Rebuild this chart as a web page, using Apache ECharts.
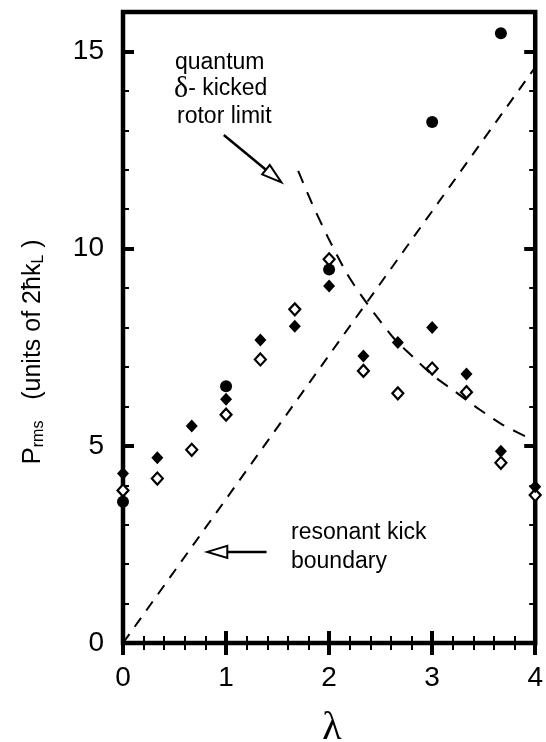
<!DOCTYPE html>
<html><head><meta charset="utf-8">
<script src="https://cdn.jsdelivr.net/npm/echarts@6/dist/echarts.min.js"></script>
<style>html,body{margin:0;padding:0;background:#fff;} #c{width:546px;height:742px;}</style>
</head><body><div id="c"></div>
<script>
// ---- data ----
const lambdaPoints = [0, 0.333, 0.667, 1, 1.333, 1.667, 2, 2.333, 2.667, 3, 3.333, 3.667, 4];
const pFilledDiamond = [4.30, 4.70, 5.50, 6.18, 7.68, 8.03, 9.05, 7.28, 7.62, 8.00, 6.82, 4.86, 3.96];
const pOpenDiamond   = [3.87, 4.17, 4.90, 5.79, 7.19, 8.46, 9.73, 6.90, 6.33, 6.96, 6.36, 4.57, 3.75];
const lambdaCircle = [0, 1, 2, 3, 3.667];
const pCircle      = [3.58, 6.51, 9.47, 13.21, 15.46];
const resonantLambda = [0, 4];
const resonantP      = [0, 14.6];
const rotorLambda = [1.70, 1.83, 1.99, 2.17, 2.31, 2.47, 2.63, 2.82, 3.01, 3.23, 3.46, 3.68, 4.00];
const rotorP      = [11.97, 11.17, 10.28, 9.38, 8.82, 8.25, 7.72, 7.24, 6.78, 6.36, 5.92, 5.54, 5.12];
const xTickLabels = [0, 1, 2, 3, 4];
const yTickLabels = [0, 5, 10, 15];
// annotation arrows: tail -> tip, in data units
const arrowTail = [[0.978, 12.88], [1.393, 2.31]];
const arrowTip  = [[1.537, 11.68], [0.818, 2.31]];

const chart = echarts.init(document.getElementById('c'), null, {renderer: 'canvas'});
const FONT = '"Liberation Sans", Arial, Helvetica, sans-serif';
const SERIF = '"Liberation Serif", "DejaVu Serif", serif';
const pairs = (xs, ys) => xs.map((x, i) => [x, ys[i]]);

function xAx(pos, showLabel) {
  return {
    type: 'value', position: pos, min: 0, max: 4, interval: 1,
    axisLine: {show: false},
    splitLine: {show: false},
    axisTick: {show: true, inside: true, length: 12, lineStyle: {color: '#000', width: 4}},
    minorTick: {show: true, splitNumber: 5, length: 7, lineStyle: {color: '#000', width: 2}},
    axisLabel: {show: showLabel, color: '#000', fontSize: 28, fontFamily: FONT, margin: 21,
      formatter: v => (xTickLabels.indexOf(v) >= 0 ? String(v) : '')}
  };
}
function yAx(pos, major, showLabel) {
  return {
    type: 'value', position: pos, min: 0, max: 16, interval: major ? 5 : 1,
    axisLine: {show: false},
    splitLine: {show: false},
    axisTick: {show: true, inside: true, length: major ? 11 : 6, lineStyle: {color: '#000', width: major ? 4 : 2}},
    axisLabel: {show: showLabel, color: '#000', fontSize: 28, fontFamily: FONT, margin: 19, showMaxLabel: false,
      formatter: v => (yTickLabels.indexOf(v) >= 0 ? String(v) : '')}
  };
}

const option = {
  animation: false,
  backgroundColor: '#fff',
  grid: {left: 123, right: 6, top: 12, bottom: 99, show: true, borderColor: '#000', borderWidth: 4.5, backgroundColor: 'transparent'},
  xAxis: [xAx('bottom', true), xAx('top', false)],
  yAxis: [yAx('left', true, true), yAx('left', false, false), yAx('right', true, false), yAx('right', false, false)],
  series: [
    {
      type: 'line', data: pairs(resonantLambda, resonantP), showSymbol: false, symbol: 'none',
      lineStyle: {color: '#000', width: 2, type: [11, 9], opacity: 1}, z: 2
    },
    {
      type: 'line', data: pairs(rotorLambda, rotorP), showSymbol: false, symbol: 'none', smooth: 0.25,
      lineStyle: {color: '#000', width: 2, type: [13, 10], opacity: 1}, z: 2
    },
    {
      type: 'custom', data: arrowTail.map((t, i) => [t[0], t[1], arrowTip[i][0], arrowTip[i][1]]),
      encode: {x: [0, 2], y: [1, 3]}, z: 3, silent: true,
      renderItem: function (params, api) {
        const a = api.coord([api.value(0), api.value(1)]);
        const b = api.coord([api.value(2), api.value(3)]);
        const dx = b[0] - a[0], dy = b[1] - a[1];
        const L = Math.sqrt(dx * dx + dy * dy);
        const ux = dx / L, uy = dy / L, nx = -uy, ny = ux;
        const hl = 20, hw = 6;
        const bx = b[0] - ux * hl, by = b[1] - uy * hl;
        return {
          type: 'group',
          children: [
            {type: 'line', shape: {x1: a[0], y1: a[1], x2: bx, y2: by}, style: {stroke: '#000', lineWidth: 2.5}},
            {type: 'polygon', shape: {points: [[b[0], b[1]], [bx + nx * hw, by + ny * hw], [bx - nx * hw, by - ny * hw]]},
              style: {fill: '#fff', stroke: '#000', lineWidth: 2}}
          ]
        };
      }
    },
    {
      type: 'scatter', data: pairs(lambdaPoints, pOpenDiamond), symbol: 'diamond', symbolSize: [11, 12],
      itemStyle: {color: '#fff', borderColor: '#000', borderWidth: 2.2, opacity: 1}, z: 4
    },
    {
      type: 'scatter', data: pairs(lambdaPoints, pFilledDiamond), symbol: 'diamond', symbolSize: [12, 13],
      itemStyle: {color: '#000', opacity: 1}, z: 5
    },
    {
      type: 'scatter', data: pairs(lambdaCircle, pCircle), symbol: 'circle', symbolSize: 12,
      itemStyle: {color: '#000', opacity: 1}, z: 6
    }
  ],
  graphic: [
    {type: 'text', x: 33, y: 352, rotation: Math.PI / 2, z: 10,
      style: {
        text: '{p|P}{s|rms}{n|   (units of 2}{h|ħ}{n|k}{s|L}{n| )}',
        align: 'center', verticalAlign: 'middle', fill: '#000',
        rich: {
          p: {fontSize: 26, fontFamily: FONT, lineHeight: 26},
          s: {fontSize: 16, fontFamily: FONT, lineHeight: 16, padding: [12, 0, 0, 0]},
          n: {fontSize: 25, fontFamily: FONT, lineHeight: 26},
          h: {fontSize: 25, fontFamily: FONT, lineHeight: 26}
        }
      }},
    {type: 'text', x: 332, y: 728, z: 10,
      style: {text: 'λ', fontSize: 40, fontFamily: SERIF, fill: '#000', align: 'center', verticalAlign: 'middle'}},
    {type: 'text', x: 175, y: 63, z: 10,
      style: {text: 'quantum', fontSize: 23, fontFamily: FONT, fill: '#000', align: 'left', verticalAlign: 'middle'}},
    {type: 'text', x: 174, y: 89, z: 10,
      style: {text: '{d|δ}{n|- kicked}', align: 'left', verticalAlign: 'middle', fill: '#000',
        rich: {d: {fontSize: 30, fontFamily: SERIF}, n: {fontSize: 23, fontFamily: FONT}}}},
    {type: 'text', x: 177, y: 117, z: 10,
      style: {text: 'rotor limit', fontSize: 23, fontFamily: FONT, fill: '#000', align: 'left', verticalAlign: 'middle'}},
    {type: 'text', x: 291, y: 533, z: 10,
      style: {text: 'resonant kick', fontSize: 23, fontFamily: FONT, fill: '#000', align: 'left', verticalAlign: 'middle'}},
    {type: 'text', x: 291, y: 562, z: 10,
      style: {text: 'boundary', fontSize: 23, fontFamily: FONT, fill: '#000', align: 'left', verticalAlign: 'middle'}}
  ]
};
chart.setOption(option);
</script>
</body></html>
